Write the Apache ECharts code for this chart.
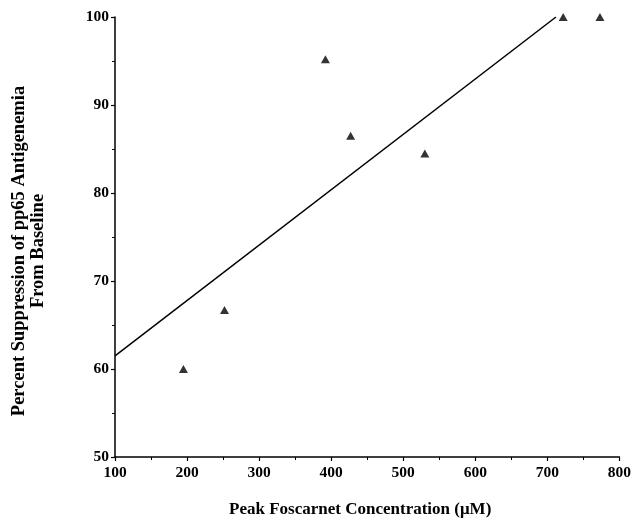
<!DOCTYPE html>
<html>
<head>
<meta charset="utf-8">
<script src="https://cdn.jsdelivr.net/npm/echarts@6/dist/echarts.min.js"></script>
<style>
  html, body { margin: 0; padding: 0; background: #fff; }
  #chart { width: 634px; height: 525px; }
</style>
</head>
<body>
<div id="chart"></div>
<script>
// measured points (peak foscarnet, % suppression)
var conc = [195, 252, 392, 427, 530, 722, 773];
var suppression = [60, 66.7, 95.2, 86.5, 84.5, 100, 100];
// regression line end points
var fitX = [100, 712];
var fitY = [61.5, 100];

var font = 'Liberation Serif';
var points = conc.map(function (c, i) { return [c, suppression[i]]; });
var fit = fitX.map(function (x, i) { return [x, fitY[i]]; });

var chart = echarts.init(document.getElementById('chart'));
var option = {
  animation: false,
  backgroundColor: '#fff',
  textStyle: { fontFamily: font, color: '#000' },
  grid: { left: 115, top: 17, right: 11, bottom: 68 },
  xAxis: {
    type: 'value',
    min: 100,
    max: 800,
    interval: 100,
    name: 'Peak Foscarnet Concentration (μM)',
    nameLocation: 'middle',
    nameGap: 44,
    nameTextStyle: { fontFamily: font, fontSize: 17, fontWeight: 'bold', color: '#000', padding: [0, 14, 0, 0] },
    axisLine: { lineStyle: { color: '#000', width: 1.5 } },
    axisTick: { length: 4, lineStyle: { color: '#000', width: 1.2 } },
    minorTick: { show: true, splitNumber: 2, length: 3, lineStyle: { color: '#000', width: 1 } },
    axisLabel: { fontFamily: font, fontSize: 15.5, fontWeight: 'bold', color: '#000', margin: 8 },
    splitLine: { show: false }
  },
  yAxis: {
    type: 'value',
    min: 50,
    max: 100,
    interval: 10,
    axisLine: { show: true, lineStyle: { color: '#000', width: 1.5 } },
    axisTick: { show: true, length: 4, lineStyle: { color: '#000', width: 1.2 } },
    minorTick: { show: true, splitNumber: 2, length: 3, lineStyle: { color: '#000', width: 1 } },
    axisLabel: { fontFamily: font, fontSize: 15.5, fontWeight: 'bold', color: '#000', margin: 6 },
    splitLine: { show: false }
  },
  graphic: [{
    type: 'text',
    x: 29,
    y: 251,
    rotation: Math.PI / 2,
    style: {
      text: 'Percent Suppression of pp65 Antigenemia\nFrom Baseline',
      fontFamily: font,
      fontSize: 18.5,
      fontWeight: 'bold',
      lineHeight: 19,
      fill: '#000',
      align: 'center',
      verticalAlign: 'middle'
    }
  }],
  series: [
    {
      type: 'line',
      data: fit,
      showSymbol: false,
      lineStyle: { color: '#000', width: 1.5 },
      z: 2
    },
    {
      type: 'scatter',
      data: points,
      symbol: 'triangle',
      symbolSize: [9, 8],
      itemStyle: { color: '#000' },
      z: 3
    }
  ]
};
chart.setOption(option);
</script>
</body>
</html>
